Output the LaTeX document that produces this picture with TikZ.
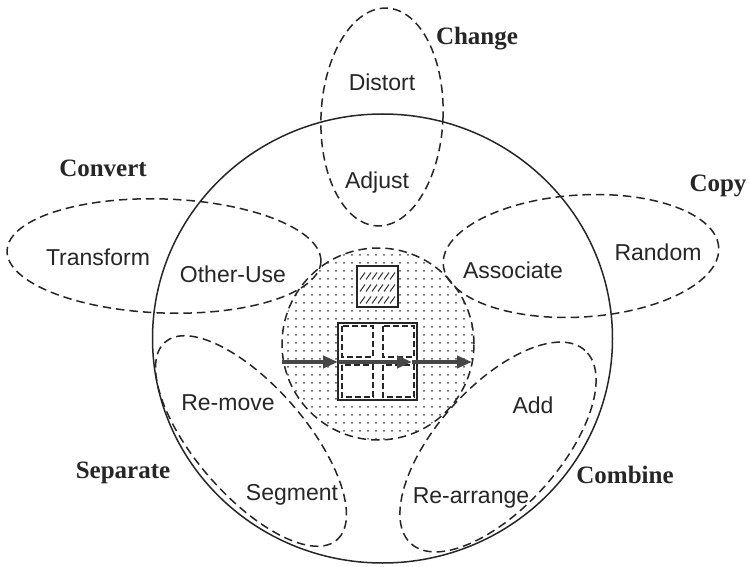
\documentclass[tikz,border=0pt]{standalone}
\usepackage{fontspec}
\setmainfont{Liberation Serif}
\setsansfont{Liberation Sans}
\usetikzlibrary{arrows.meta,patterns.meta}
\begin{document}
\begin{tikzpicture}[x=1pt,y=-1pt,
  lbl/.style={font=\sffamily\fontsize{23}{23}\selectfont, inner sep=0pt, anchor=base, text=black!85},
  grp/.style={font=\bfseries\fontsize{25}{25}\selectfont, inner sep=0pt, anchor=base, text=black!85},
  setline/.style={dash pattern=on 8.5pt off 5pt, line width=1.5pt, draw=black!85},
  boxline/.style={line width=1.5pt, draw=black!85, fill=white},
  subsq/.style={dash pattern=on 6pt off 3pt, line width=1.2pt, draw=black!85},
  flow/.style={line width=3.8pt, draw=black!72, -{Triangle[length=15pt,width=12pt]}}
]
\fill[white] (0,0) rectangle (750,567);
\useasboundingbox (0,0) rectangle (750,567);

% dotted central region
\draw[setline, pattern={Dots[distance=8pt, radius=1pt]}, pattern color=black!70]
  (378,344) circle [radius=96pt];

% hatched box
\draw[boxline] (357,266) rectangle (398,307);
\foreach \yy in {276,288,300}{
  \foreach \xx in {360,366,...,390}{
    \draw[line width=1pt, black!80] (\xx,\yy+3.5) -- (\xx+5,\yy-3.5);
  }
}

% object box with four sub squares
\draw[boxline] (338,323) rectangle (417,400);
\draw[subsq] (342,326) rectangle (373,357);
\draw[subsq] (383,326) rectangle (414,357);
\draw[subsq] (342,365) rectangle (373,397);
\draw[subsq] (383,365) rectangle (414,397);

% flow arrows
\coordinate (fin) at (282,362);
\coordinate (fa) at (338,362);
\coordinate (fb) at (412,362);
\coordinate (fout) at (472,362);
\draw[flow] (fin) -- (fa);
\draw[flow] (fa) -- (fb);
\draw[flow] (fb) -- (fout);

% big circle
\draw[line width=1.5pt, black!85] (382.5,338.5) ellipse [x radius=230pt, y radius=224.5pt];

% group ellipses
\draw[setline, rotate around={-2.6:(382,117)}] (382,117) ellipse [x radius=61pt, y radius=109pt];
\draw[setline, rotate around={-2:(164,256)}] (164,256) ellipse [x radius=157pt, y radius=57pt];
\draw[setline, rotate around={3.5:(581,256)}] (581,256) ellipse [x radius=138pt, y radius=61pt];
\draw[setline, rotate around={-49:(251,441)}] (251,441) ellipse [x radius=131pt, y radius=55pt];
\draw[setline, rotate around={48:(498,447)}] (498,447) ellipse [x radius=130pt, y radius=61pt];

% group labels
\node[grp] (change) at (477,45) {Change};
\node[grp] (convert) at (103,177) {Convert};
\node[grp] (copy) at (718,192) {Copy};
\node[grp] (separate) at (123,478) {Separate};
\node[grp] (combine) at (625,483) {Combine};

% operation labels
\node[lbl] (distort) at (382,91) {Distort};
\node[lbl] (adjust) at (377,189) {Adjust};
\node[lbl] (transform) at (98,265) {Transform};
\node[lbl] (otheruse) at (233,282) {Other-Use};
\node[lbl] (associate) at (513,278) {Associate};
\node[lbl] (random) at (658,260) {Random};
\node[lbl] (remove) at (228,410) {Re-move};
\node[lbl] (segment) at (292,500) {Segment};
\node[lbl] (add) at (533,413) {Add};
\node[lbl] (rearrange) at (471,503) {Re-arrange};
\end{tikzpicture}
\end{document}
